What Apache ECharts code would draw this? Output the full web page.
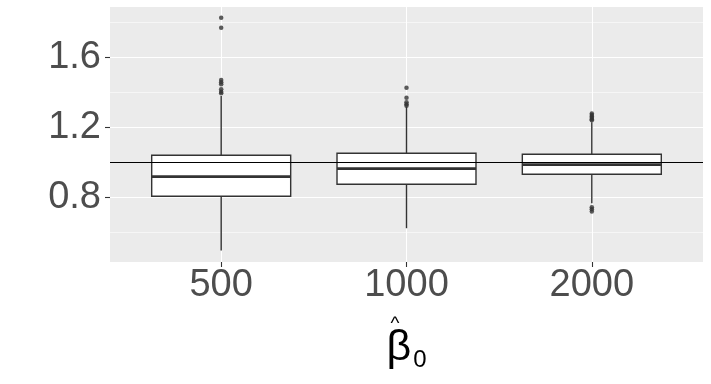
<!DOCTYPE html>
<html>
<head>
<meta charset="utf-8">
<script src="https://cdn.jsdelivr.net/npm/echarts@6/dist/echarts.min.js"></script>
<style>
  html, body { margin: 0; padding: 0; background: #fff; }
  #app { width: 711px; height: 384px; }
</style>
</head>
<body>
<div id="app"></div>
<script>
// sample sizes (x categories)
var sizes = ['500', '1000', '2000']
var xPos = [1, 2, 3]

// box stats: [lower whisker, Q1, median, Q3, upper whisker]
var box500 = [0.495, 0.806, 0.918, 1.040, 1.379]
var box1000 = [0.623, 0.874, 0.963, 1.051, 1.318]
var box2000 = [0.766, 0.931, 0.986, 1.046, 1.229]

// outliers per group
var out500 = [1.826, 1.769, 1.470, 1.457, 1.446, 1.417, 1.403, 1.394]
var out1000 = [1.426, 1.369, 1.343, 1.331, 1.323]
var out2000 = [1.278, 1.270, 1.262, 1.254, 1.246, 1.240, 0.743, 0.731, 0.718]

// y axis ticks
var yMajor = [0.8, 1.2, 1.6]
var yMinor = [0.6, 1.0, 1.4, 1.8]
var refLine = 1

var chart = echarts.init(document.getElementById('app'))

var boxes = [box500, box1000, box2000]
var outs = [out500, out1000, out2000]

var boxData = boxes.map((b, i) => [xPos[i]].concat(b))
var outData = []
outs.forEach((list, i) => {
    list.forEach((v) => outData.push([xPos[i], v]))
})

var font = 'Liberation Sans, Arial, sans-serif'
var ink = '#333333'

//画箱线图 (ggplot 风格, 须线无横帽)
var renderBox = (params, api) => {
    var x = api.value(0)
    var pLo = api.coord([x, api.value(1)])
    var pQ1 = api.coord([x, api.value(2)])
    var pMed = api.coord([x, api.value(3)])
    var pQ3 = api.coord([x, api.value(4)])
    var pHi = api.coord([x, api.value(5)])
    var w = api.size([0.75, 0])[0]
    var left = pMed[0] - w / 2
    var line = {stroke: ink, lineWidth: 1.4}
    return {
        type: 'group',
        children: [
            {type: 'line', shape: {x1: pLo[0], y1: pLo[1], x2: pQ1[0], y2: pQ1[1]}, style: line},
            {type: 'line', shape: {x1: pQ3[0], y1: pQ3[1], x2: pHi[0], y2: pHi[1]}, style: line},
            {type: 'rect', shape: {x: left, y: pQ3[1], width: w, height: pQ1[1] - pQ3[1]}, style: {fill: '#fff', stroke: ink, lineWidth: 1.4}},
            {type: 'line', shape: {x1: left, y1: pMed[1], x2: left + w, y2: pMed[1]}, style: {stroke: ink, lineWidth: 2.8}}
        ]
    }
}

chart.setOption({
    animation: false,
    backgroundColor: '#fff',
    grid: {
        left: 110,
        right: 8,
        top: 7,
        bottom: 122,
        show: true,
        backgroundColor: '#EBEBEB',
        borderWidth: 0
    },
    xAxis: {
        type: 'value',
        min: 0.4,
        max: 3.6,
        axisLine: {show: false},
        axisTick: {
            show: true,
            customValues: xPos,
            length: 5,
            lineStyle: {color: ink, width: 1.1}
        },
        axisLabel: {
            customValues: xPos,
            margin: 5,
            color: '#4D4D4D',
            fontSize: 38,
            fontFamily: font,
            formatter: (v) => sizes[xPos.indexOf(Math.round(v))] || ''
        },
        splitLine: {
            show: true,
            lineStyle: {color: '#fff', width: 1.1}
        },
        name: '{h|^}\n{b|β}{s|0}',
        nameLocation: 'middle',
        nameGap: 63,
        nameTextStyle: {
            rich: {
                h: {fontSize: 19, fontFamily: font, color: '#000', padding: [0, 23, 10, 0], lineHeight: 8},
                b: {fontSize: 43, fontFamily: font, color: '#000', lineHeight: 30},
                s: {fontSize: 24, fontFamily: font, color: '#000', verticalAlign: 'top', lineHeight: 4, padding: [15, 0, 0, 2]}
            }
        }
    },
    yAxis: [
        {
            type: 'value',
            min: 0.43,
            max: 1.887,
            axisLine: {show: false},
            axisTick: {
                show: true,
                customValues: yMajor,
                length: 5,
                lineStyle: {color: ink, width: 1.1}
            },
            axisLabel: {
                customValues: yMajor,
                margin: 9,
                color: '#4D4D4D',
                fontSize: 38,
                fontFamily: font,
                formatter: (v) => v.toFixed(1)
            },
            splitLine: {
                show: true,
                lineStyle: {color: '#fff', width: 1.1}
            }
        },
        {
            type: 'value',
            min: 0.43,
            max: 1.887,
            position: 'left',
            axisLine: {show: false},
            axisTick: {show: false, customValues: yMinor},
            axisLabel: {show: false, customValues: yMinor},
            splitLine: {
                show: true,
                lineStyle: {color: '#fff', width: 0.55}
            }
        }
    ],
    series: [
        {
            type: 'custom',
            data: boxData,
            renderItem: renderBox,
            encode: {x: 0, y: [1, 2, 3, 4, 5]},
            markLine: {
                silent: true,
                symbol: 'none',
                label: {show: false},
                lineStyle: {color: '#000', width: 1.2, type: 'solid'},
                data: [{yAxis: refLine}]
            },
            z: 3
        },
        {
            type: 'scatter',
            data: outData,
            symbol: 'circle',
            symbolSize: 4.5,
            itemStyle: {color: ink},
            z: 4
        }
    ]
})
</script>
</body>
</html>
